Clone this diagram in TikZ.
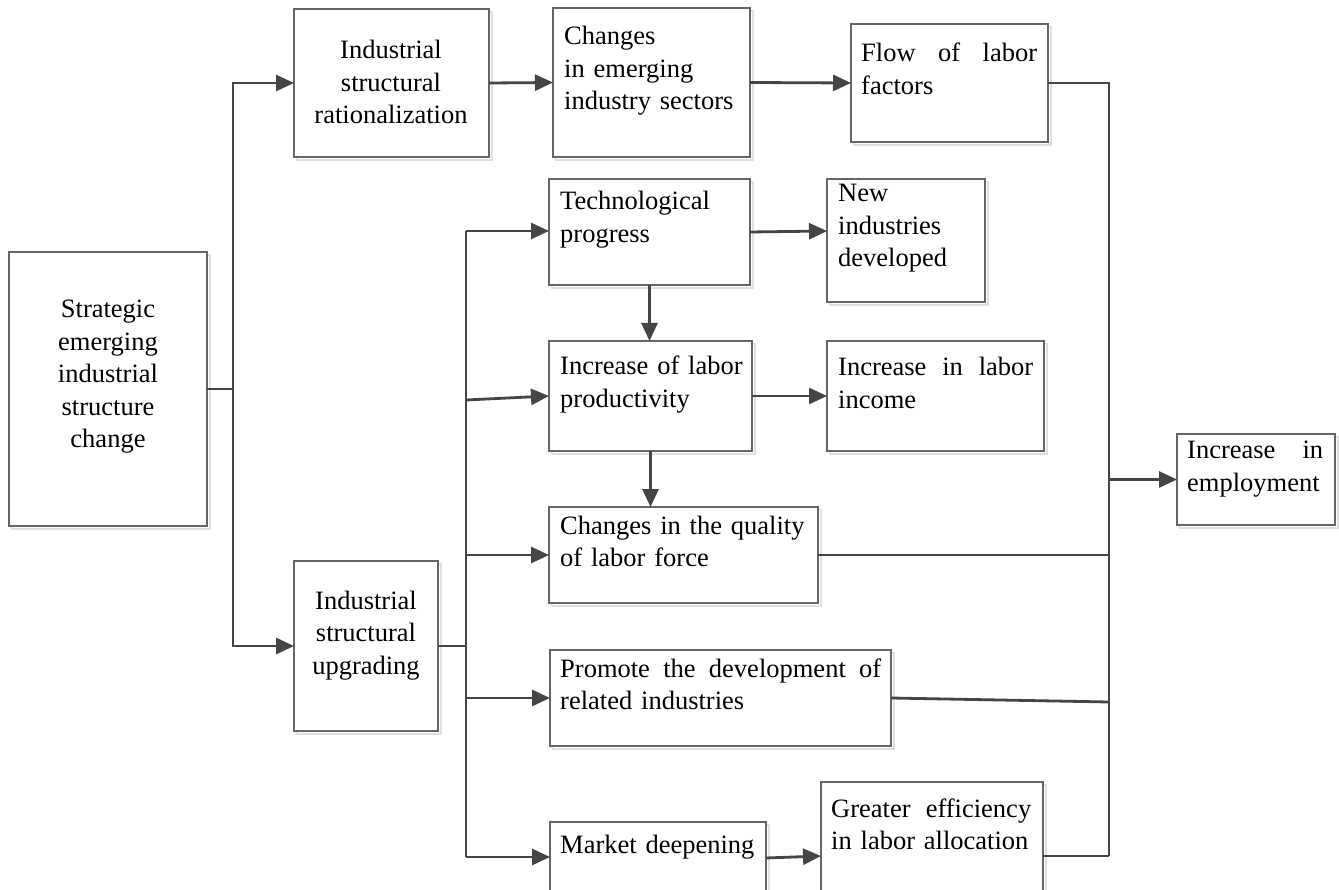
\documentclass[tikz,border=0pt]{standalone}
\usepackage{fontspec}
\setmainfont{Liberation Serif}
\usetikzlibrary{arrows.meta,shadows}
\newcommand\bx[5]{\node[boxst,anchor=north west,minimum width={(#4-#2)*1pt},minimum height={(#5-#3)*1pt}] (#1) at (#2,#3) {};}
\begin{document}
\begin{tikzpicture}[x=1pt,y=-1pt,
  boxst/.style={draw=black!60,line width=1.3pt,fill=white,inner sep=0pt,outer sep=0pt,
    general shadow={shadow xshift=3pt,shadow yshift=-3pt,draw=black!12,fill=none,line width=1.2pt}},
  txt/.style={inner sep=0pt,align=left,font={\fontsize{26.5pt}{32.5pt}\selectfont},text=black},
  ctxt/.style={inner sep=0pt,align=center,font={\fontsize{26.5pt}{32.5pt}\selectfont},text=black},
  conn/.style={draw=black!73,line width=2.8pt},
  arr/.style={conn,-{Triangle[length=18pt,width=16pt]}}]
\useasboundingbox (0,0) rectangle (1339,890);
\clip (0,0) rectangle (1339,890);
\fill[white] (0,0) rectangle (1339,890);
% boxes
\bx{s}{9}{252}{207}{526}
\bx{isr}{294}{9}{489}{157}
\bx{ce}{553}{8}{750}{157}
\bx{fl}{851}{24}{1048}{142}
\bx{tp}{549}{179}{750}{285}
\bx{ni}{827}{179}{985}{302}
\bx{ip}{549}{341}{752}{451}
\bx{ii}{827}{341}{1044}{451}
\bx{cq}{549}{507}{818}{603}
\bx{ie}{1177}{434}{1335}{525}
\bx{isu}{294}{561}{438}{731}
\bx{pd}{550}{650}{891}{746}
\bx{md}{550}{822}{766}{892}
\bx{ge}{821}{782}{1043}{930}
% texts
\node[ctxt,text width=190pt,anchor=base] (s-t) at (108,318) {Strategic\\emerging\\industrial\\structure\\change};
\node[ctxt,text width=190pt,anchor=base] (isr-t) at (391,59) {Industrial\\structural\\rationalization};
\node[ctxt,text width=140pt,anchor=base] (isu-t) at (366,609) {Industrial\\structural\\upgrading};
\node[txt,text width=180pt,anchor=base west] (ce-t) at (564,45) {Changes\\in emerging\\industry sectors};
\node[txt,text width=176pt,anchor=base west] (fl-t) at (861,62) {Flow\hfill of\hfill labor\\factors};
\node[txt,text width=185pt,anchor=base west] (tp-t) at (560,210) {Technological\\progress};
\node[txt,text width=140pt,anchor=base west] (ni-t) at (838,202) {New\\industries\\developed};
\node[txt,text width=185pt,anchor=base west] (ip-t) at (560,375) {Increase of labor\\productivity};
\node[txt,text width=195pt,anchor=base west] (ii-t) at (838,376) {Increase\hfill in\hfill labor\\income};
\node[txt,text width=250pt,anchor=base west] (cq-t) at (560,534) {Changes in the quality\\of labor force};
\node[txt,text width=136pt,anchor=base west] (ie-t) at (1187,459) {Increase\hfill in\\employment};
\node[txt,text width=321pt,anchor=base west] (pd-t) at (560,677) {Promote\hfill the\hfill development\hfill of\\related industries};
\node[txt,text width=200pt,anchor=base west] (md-t) at (560,853) {Market deepening};
\node[txt,text width=200pt,anchor=base west] (ge-t) at (831,817) {Greater\hfill efficiency\\in labor allocation};
% junctions
\coordinate (j1) at (233,389);
\coordinate (j2) at (466,646);
\coordinate (t2top) at (466,231);
\coordinate (t2bot) at (466,857);
\coordinate (t3top) at (1109,83);
\coordinate (t3bot) at (1109,856);
\coordinate (jpd) at (1109,702);
\coordinate (jie) at (1109,479.5);
\coordinate (jip) at (466,400);
% left trunk
\draw[conn] (s.east) -- (j1);
\draw[arr] (j1) |- (isr);
\draw[arr] (j1) |- (isu);
% top row
\draw[arr] (isr.east) -- (ce.west);
\draw[arr] (ce.east) -- (fl.west);
% middle trunk
\draw[conn] (isu.east) -- (j2);
\draw[conn] (t2top) -- (t2bot);
\draw[arr] (t2top) -- (t2top -| tp.west);
\draw[arr] (jip) -- (ip.west);
\draw[arr] (cq.west -| t2top) -- (cq.west);
\draw[arr] (pd.west -| t2top) -- (pd.west);
\draw[arr] (t2bot) -- (md.west);
% inner arrows
\draw[arr] (tp.east) -- ([yshift=1pt]tp.east -| ni.west);
\draw[arr] (tp.south) -- (tp.south |- ip.north);
\draw[arr] (ip.east) -- (ii.west);
\draw[arr] (ip.south) -- (ip.south |- cq.north);
\draw[arr] ([yshift=-1pt]md.east) -- (ge.west);
% right trunk
\draw[conn] (fl.east) -- (t3top) -- (t3bot);
\draw[conn] (cq.east) -- (cq.east -| t3top);
\draw[conn] (pd.east) -- (jpd);
\draw[conn] (ge.west -| ge.east) -- (t3bot);
\draw[arr] (jie) -- (ie.west);
\end{tikzpicture}
\end{document}
